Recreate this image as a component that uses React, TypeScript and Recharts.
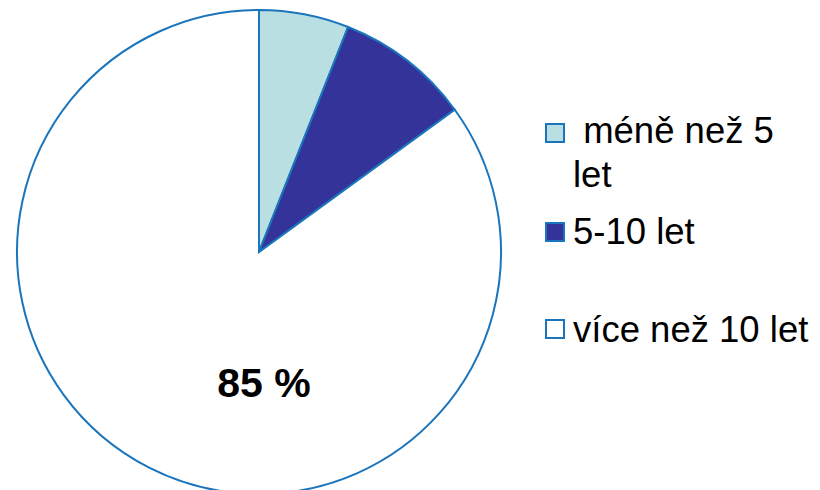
import { PieChart, Pie, Cell, Legend } from 'recharts';

const categories = ['\u00a0méně než 5 let', '5-10 let', 'více než 10 let'];
const shares = [6, 9, 85];
const colors = ['#b9dfe3', '#333399', '#ffffff'];

const data = categories.map((name, i) => ({ name, value: shares[i] }));

const font = 'Arial, "Liberation Sans", sans-serif';
const itemGaps = [0, 13, 54];
const squareTops = [14, 12, 11];

function renderLegend() {
  return (
    <div style={{ fontFamily: font, fontSize: 36.5, lineHeight: '44px', color: '#000' }}>
      {data.map((d, i) => (
        <div key={d.name} style={{ display: 'flex', alignItems: 'flex-start', marginTop: itemGaps[i] }}>
          <div
            style={{
              width: 16,
              height: 16,
              marginTop: squareTops[i],
              marginRight: 8,
              flexShrink: 0,
              background: colors[i],
              border: '2px solid #1b75bc',
            }}
          />
          <div style={i === 0 ? { width: 215 } : { whiteSpace: 'nowrap' }}>{d.name}</div>
        </div>
      ))}
    </div>
  );
}

function renderLabel(props: any) {
  if (props.index !== 2) return null;
  return (
    <text
      x={props.cx + 5}
      y={props.cy + 145}
      textAnchor="middle"
      fontFamily={font}
      fontSize={41}
      fontWeight="bold"
      fill="#000"
    >
      {`${props.value} %`}
    </text>
  );
}

export default function App() {
  return (
    <div style={{ position: 'absolute', left: 0, top: 0 }}>
      <PieChart width={820} height={490} margin={{ top: 0, right: 0, bottom: 0, left: 0 }}>
        <Pie
          data={data}
          dataKey="value"
          nameKey="name"
          cx={259}
          cy={252}
          outerRadius={242}
          startAngle={90}
          endAngle={-270}
          stroke="#1b75bc"
          strokeWidth={2}
          label={renderLabel}
          labelLine={false}
          isAnimationActive={false}
        >
          {data.map((d, i) => (
            <Cell key={d.name} fill={colors[i]} />
          ))}
        </Pie>
        <Legend
          content={renderLegend}
          wrapperStyle={{ position: 'absolute', left: 545, top: 109, width: 275 }}
        />
      </PieChart>
    </div>
  );
}
